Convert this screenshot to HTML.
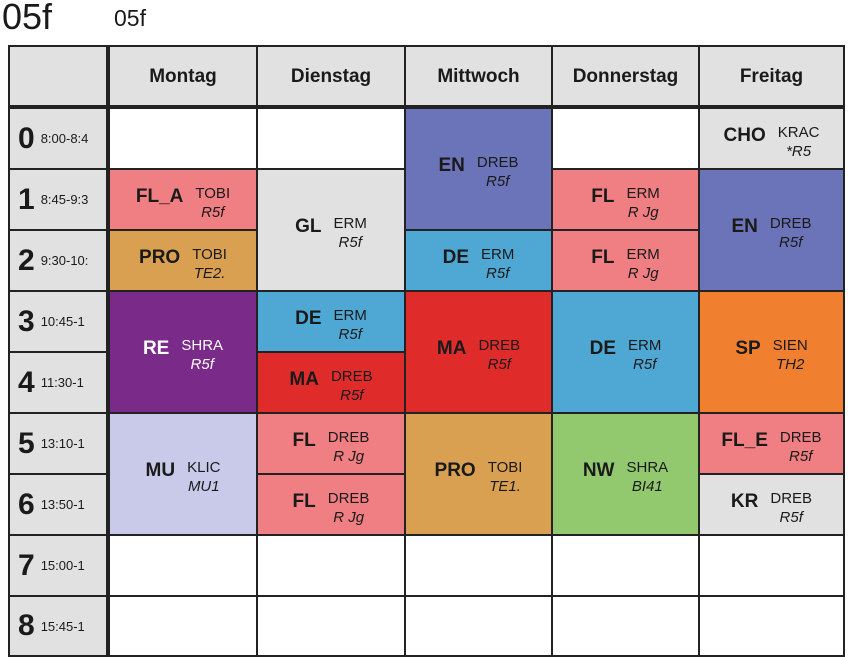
<!DOCTYPE html>
<html><head><meta charset="utf-8">
<style>
body{margin:0;width:848px;height:656px;background:#fff;font-family:"Liberation Sans",Arial,sans-serif;position:relative;overflow:hidden;color:#1a1a1a}
.t1{position:absolute;left:2px;top:-4px;font-size:36px}
.t2{position:absolute;left:114px;top:5px;font-size:23px}
.cell{position:absolute;box-sizing:border-box;border:2px solid #222;display:flex;align-items:center;justify-content:center}
.hdr{background:#e1e1e1;font-weight:bold;font-size:19px}
.per{background:#e1e1e1;justify-content:flex-start;padding-left:8px}
.per b{font-size:30px;margin-right:6px}
.per span{font-size:13px}
.les{gap:12px;padding-bottom:6px}
.subj{font-weight:bold;font-size:19px}
.info{text-align:center;font-size:15px;line-height:19px;margin-top:12px}
.info i{display:block}
.line{position:absolute;background:#222}
</style></head><body>
<div class="t1">05f</div>
<div class="t2">05f</div>
<div id="grid"></div>
<div class="line" style="left:8px;top:105px;width:836px;height:4px"></div>
<div class="line" style="left:106px;top:45px;width:4px;height:611px"></div>
<script>
const xs=[8,108,256,404,551,698,843];
const ys=[45,107,168,229,290,351,412,473,534,595,655];
const days=["Montag","Dienstag","Mittwoch","Donnerstag","Freitag"];
const periods=[["0","8:00-8:4"],["1","8:45-9:3"],["2","9:30-10:"],["3","10:45-1"],["4","11:30-1"],["5","13:10-1"],["6","13:50-1"],["7","15:00-1"],["8","15:45-1"]];
const lessons=[
[0,1,1,"FL_A","TOBI","R5f","#ef7f82","#1a1a1a"],
[0,2,1,"PRO","TOBI","TE2.","#d9a052","#1a1a1a"],
[0,3,2,"RE","SHRA","R5f","#7a2a88","#fff"],
[0,5,2,"MU","KLIC","MU1","#c9c9e9","#1a1a1a"],
[1,1,2,"GL","ERM","R5f","#e1e1e1","#1a1a1a"],
[1,3,1,"DE","ERM","R5f","#4fa8d3","#1a1a1a"],
[1,4,1,"MA","DREB","R5f","#e02b2b","#1a1a1a"],
[1,5,1,"FL","DREB","R Jg","#ef7f82","#1a1a1a"],
[1,6,1,"FL","DREB","R Jg","#ef7f82","#1a1a1a"],
[2,0,2,"EN","DREB","R5f","#6b74b8","#1a1a1a"],
[2,2,1,"DE","ERM","R5f","#4fa8d3","#1a1a1a"],
[2,3,2,"MA","DREB","R5f","#e02b2b","#1a1a1a"],
[2,5,2,"PRO","TOBI","TE1.","#d9a052","#1a1a1a"],
[3,1,1,"FL","ERM","R Jg","#ef7f82","#1a1a1a"],
[3,2,1,"FL","ERM","R Jg","#ef7f82","#1a1a1a"],
[3,3,2,"DE","ERM","R5f","#4fa8d3","#1a1a1a"],
[3,5,2,"NW","SHRA","BI41","#92c86e","#1a1a1a"],
[4,0,1,"CHO","KRAC","*R5","#e1e1e1","#1a1a1a"],
[4,1,2,"EN","DREB","R5f","#6b74b8","#1a1a1a"],
[4,3,2,"SP","SIEN","TH2","#f08030","#1a1a1a"],
[4,5,1,"FL_E","DREB","R5f","#ef7f82","#1a1a1a"],
[4,6,1,"KR","DREB","R5f","#e1e1e1","#1a1a1a"]
];
const g=document.getElementById('grid');
function box(x0,y0,x1,y1,cls){const d=document.createElement('div');d.className='cell '+cls;d.style.left=x0+'px';d.style.top=y0+'px';d.style.width=(x1-x0+2)+'px';d.style.height=(y1-y0+2)+'px';g.appendChild(d);return d;}
const c=box(xs[0],ys[0],xs[1],ys[1],'hdr');


days.forEach((d,i)=>{const e=box(xs[i+1],ys[0],xs[i+2],ys[1],'hdr');e.textContent=d;

});
periods.forEach((p,r)=>{const e=box(xs[0],ys[r+1],xs[1],ys[r+2],'per');e.innerHTML='<b>'+p[0]+'</b><span>'+p[1]+'</span>';


for(let d=0;d<5;d++){const w=box(xs[d+1],ys[r+1],xs[d+2],ys[r+2],'');w.style.background='#fff';

}});
lessons.forEach(l=>{const[d,r,s,su,te,ro,bg,fg]=l;const e=box(xs[d+1],ys[r+1],xs[d+2],ys[r+1+s],'les');
e.style.background=bg;e.style.color=fg;
e.innerHTML='<span class="subj">'+su+'</span><span class="info">'+te+'<i>'+ro+'</i></span>';

});
</script>
</body></html>
